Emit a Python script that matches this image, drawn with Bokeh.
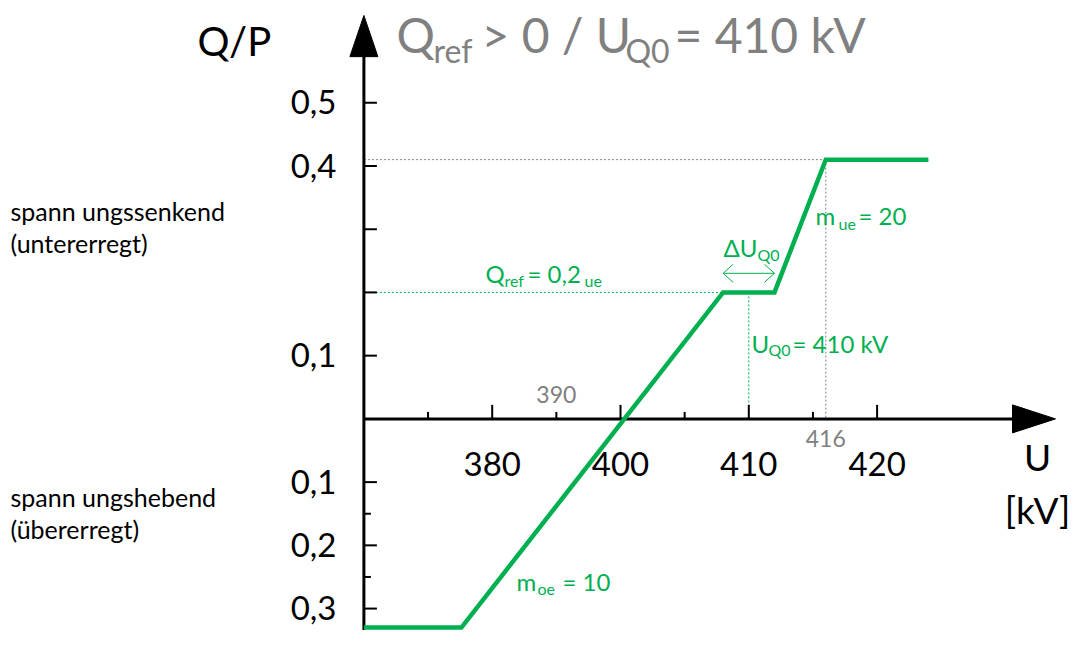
from bokeh.plotting import figure
from bokeh.models import Label, Range1d
from bokeh.embed import file_html
from bokeh.resources import INLINE

# ---------------- data ----------------
U_KV = [380.0, 387.6, 408.0, 412.0, 416.0, 424.0]   # voltage U [kV]
Q_P = [-0.33, -0.33, 0.20, 0.20, 0.41, 0.41]        # Q/P

Y_TICKS_UP = [0.1, 0.2, 0.3, 0.4, 0.5]
Y_LABELS_UP = ["0,1", "", "", "0,4", "0,5"]
Y_TICKS_DOWN = [-0.1, -0.2, -0.3]
Y_LABELS_DOWN = ["0,1", "0,2", "0,3"]
Y_MINOR_DOWN = [-0.15, -0.25]
X_TICKS = [390, 400, 410, 420]
X_LABELS = ["380", "400", "410", "420"]
X_MINOR = [385, 395, 405, 415]

U_AXIS = 380
U_Q0 = 410
U_BREAK = 416
Q_REF = 0.2
Q_MAX = 0.41

GREEN = "#00B050"
GREY = "#808080"
FONT = "Lato"

W, H = 1070, 630

# ---------------- scale helpers (reference pixel -> data) ----------------
SX = 12.83   # px per kV
SY = 645.0   # px per unit Q/P (reference)
K = 613.0 / 625.3   # slight vertical squeeze so the whole drawing fits
BASE_FIX = 0.36     # baseline correction of the text renderer (em)


def ux(px):
    return 400 + (px - 620) / SX


def qy(py):
    return (426.5 - py) / SY


def ref_y_of_fig(fy):
    return 14 + (fy - 14) / K


SYF = SY * K  # effective px per unit in the figure

p = figure(width=W, height=H, output_backend="svg", toolbar_location=None,
           x_range=Range1d(ux(0), ux(W)),
           y_range=Range1d(qy(ref_y_of_fig(H)), qy(ref_y_of_fig(0))),
           x_axis_type=None, y_axis_type=None, min_border=0)
p.outline_line_color = None
p.xgrid.visible = False
p.ygrid.visible = False
p.background_fill_color = "white"

# dotted guide lines
p.segment(x0=[U_AXIS, U_BREAK], y0=[Q_MAX, Q_MAX], x1=[U_BREAK, U_BREAK], y1=[Q_MAX, 0],
          line_color=GREY, line_width=1, line_dash="2 2")
p.segment(x0=[U_AXIS, U_Q0], y0=[Q_REF, Q_REF], x1=[U_KV[2], U_Q0], y1=[Q_REF, 0],
          line_color=GREEN, line_width=1, line_dash="2 2")

# axes
p.segment(x0=[U_AXIS], y0=[qy(700)], x1=[U_AXIS], y1=[qy(50)], line_color="black", line_width=3)
p.patch([U_AXIS - 14 / SX, U_AXIS, U_AXIS + 14 / SX], [qy(57), qy(15), qy(57)],
        fill_color="black", line_color="black")
p.segment(x0=[U_AXIS], y0=[0], x1=[ux(1020)], y1=[0], line_color="black", line_width=3)
p.patch([ux(1012), ux(1055), ux(1012)], [14 / SYF, 0, -14 / SYF],
        fill_color="black", line_color="black")

# y ticks
yt = Y_TICKS_UP + Y_TICKS_DOWN
p.segment(x0=[U_AXIS] * len(yt), y0=yt, x1=[U_AXIS + 13 / SX] * len(yt), y1=yt,
          line_color="black", line_width=2)
p.segment(x0=[U_AXIS] * len(Y_MINOR_DOWN), y0=Y_MINOR_DOWN,
          x1=[U_AXIS + 7 / SX] * len(Y_MINOR_DOWN), y1=Y_MINOR_DOWN,
          line_color="black", line_width=2)
# x ticks
p.segment(x0=X_TICKS, y0=[0] * len(X_TICKS), x1=X_TICKS, y1=[14 / SYF] * len(X_TICKS),
          line_color="black", line_width=2)
p.segment(x0=X_MINOR, y0=[0] * len(X_MINOR), x1=X_MINOR, y1=[7 / SYF] * len(X_MINOR),
          line_color="black", line_width=2)

# characteristic
p.line(U_KV, Q_P, line_color=GREEN, line_width=4.5, line_join="miter")

# delta-U double arrow
ya = qy(278)
p.segment(x0=[U_KV[2]], y0=[ya], x1=[U_KV[3]], y1=[ya], line_color=GREEN, line_width=1)
for tip, d in ((U_KV[2], 1), (U_KV[3], -1)):
    p.segment(x0=[tip, tip], y0=[ya, ya], x1=[tip + d * 10 / SX] * 2,
              y1=[ya + 9 / SYF, ya - 9 / SYF], line_color=GREEN, line_width=1)


def lab(text, x, y, size, color="black", align="left"):
    y = y + BASE_FIX * size / SYF
    p.add_layout(Label(x=x, y=y, text=text, text_font=FONT, text_font_size=f"{size}px",
                       text_color=color, text_align=align, text_baseline="alphabetic"))


# tick labels
for v, t in zip(Y_TICKS_UP + Y_TICKS_DOWN, Y_LABELS_UP + Y_LABELS_DOWN):
    if t:
        lab(t, ux(336), v - 11.5 / SYF, 33, align="right")
for v, t in zip(X_TICKS, X_LABELS):
    lab(t, v, qy(485), 33, align="center")

# title
lab("Q", ux(396), qy(52), 48, GREY)
lab("ref", ux(433), qy(62), 32, GREY)
lab("> 0 / U", ux(481), qy(52), 48, GREY)
lab("Q0", ux(625), qy(62), 32, GREY)
lab("= 410 kV", ux(674), qy(52), 48, GREY)

# axis titles
lab("Q/P", ux(197), qy(56), 40)
lab("U", ux(1037), qy(478), 37, align="center")
lab("[kV]", ux(1037), qy(533), 37, align="center")

# side texts
lab("spann ungssenkend", ux(10), qy(223.5), 25)
lab("(untererregt)", ux(10), qy(256.5), 25)
lab("spann ungshebend", ux(10), qy(515), 25)
lab("(übererregt)", ux(10), qy(548), 25)

# green annotations
lab("m", ux(815), qy(228), 24, GREEN)
lab("ue", ux(838), qy(233), 16, GREEN)
lab("= 20", ux(858), qy(228), 24, GREEN)

lab("ΔU", ux(723), qy(260), 24, GREEN)
lab("Q0", ux(757), qy(265), 16, GREEN)

lab("Q", ux(485), qy(287), 24, GREEN)
lab("ref", ux(504), qy(291), 16, GREEN)
lab("= 0,2", ux(527), qy(287), 24, GREEN)
lab("ue", ux(584), qy(291), 16, GREEN)

lab("U", ux(751), qy(358), 24, GREEN)
lab("Q0", ux(768), qy(362), 16, GREEN)
lab("= 410 kV", ux(792), qy(358), 24, GREEN)

lab("m", ux(516), qy(601), 24, GREEN)
lab("oe", ux(537), qy(605), 16, GREEN)
lab("= 10", ux(562), qy(601), 24, GREEN)

# grey small labels
lab("390", 395, qy(410), 23, GREY, align="center")
lab("416", U_BREAK, qy(455), 23, GREY, align="center")

open("out.html", "w").write(file_html(p, INLINE))
